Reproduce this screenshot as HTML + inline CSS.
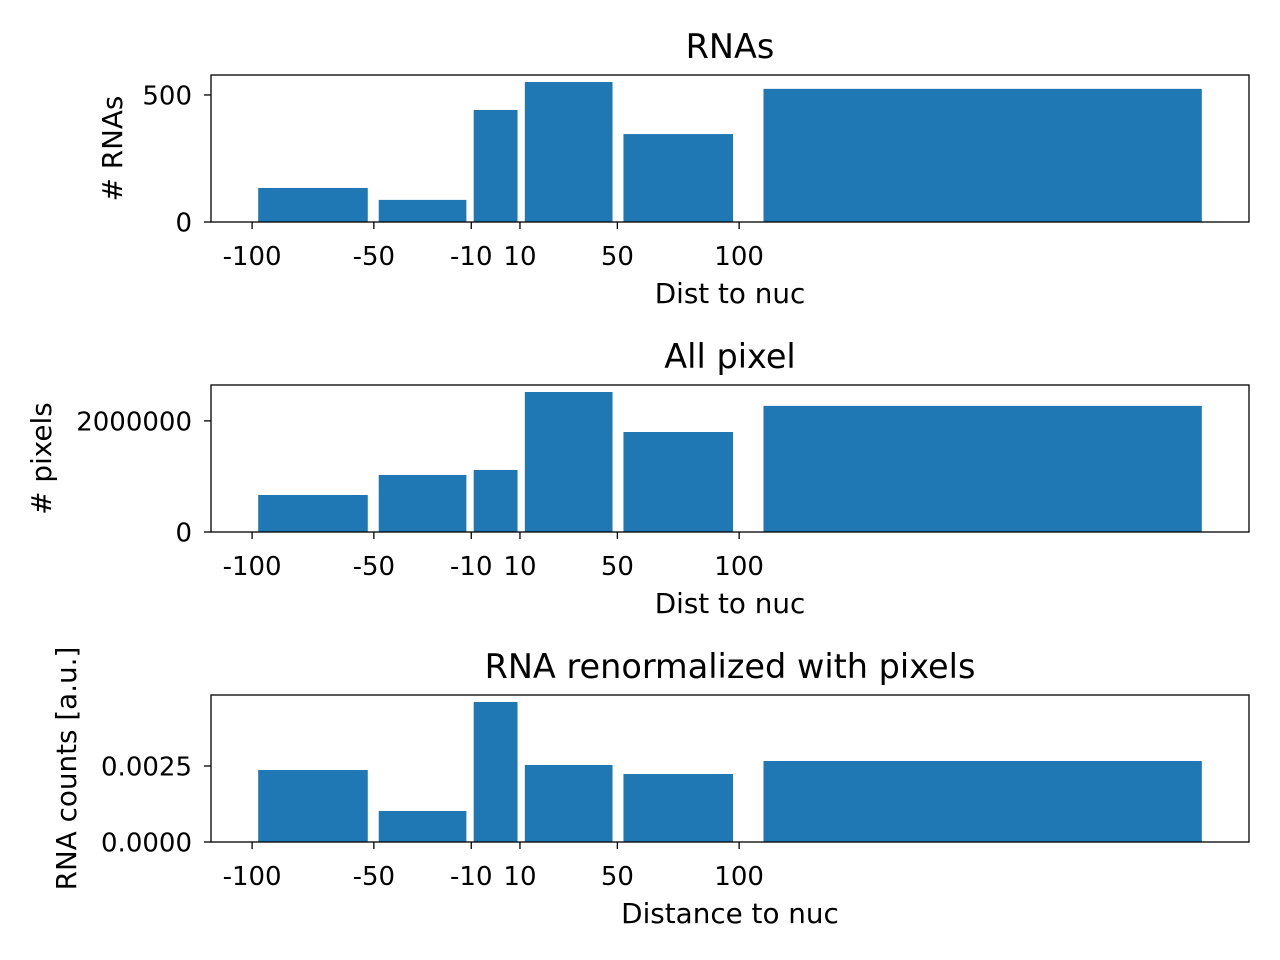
<!DOCTYPE html>
<html><head><meta charset="utf-8"><style>
body{margin:0;background:#fff;}
svg{display:block;font-family:"DejaVu Sans","Liberation Sans",sans-serif;}
</style></head><body>
<svg id="chart" width="1280" height="960" viewBox="0 0 1280 960" xmlns="http://www.w3.org/2000/svg"></svg>
<script>
const binStarts = [-100, -50, -10, 10, 50, 100];
const binEnds = [-50, -10, 10, 50, 100, 300];
const xTickValues = [-100, -50, -10, 10, 50, 100];
const xTickLabels = ["-100", "-50", "-10", "10", "50", "100"];
const rnaCounts = [134, 87, 441, 551, 346, 524];
const pixelCounts = [666000, 1027000, 1117000, 2520000, 1800000, 2270000];
const renormValues = [0.002368, 0.00102, 0.004605, 0.002533, 0.002237, 0.002664];
const rnaYTicks = [0, 500];
const rnaYTickLabels = ["0", "500"];
const pixYTicks = [0, 2000000];
const pixYTickLabels = ["0", "2000000"];
const renYTicks = [0, 0.0025];
const renYTickLabels = ["0.0000", "0.0025"];

const NS = "http://www.w3.org/2000/svg";
const svg = document.getElementById("chart");
function mk(tag, attrs, parent){const e=document.createElementNS(NS,tag);for(const k in attrs)e.setAttribute(k,attrs[k]);(parent||svg).appendChild(e);return e;}

const AX_L=211, AX_R=1249;
const TICK_FS=26, LABEL_FS=27.8, TITLE_FS=33.5;
const dataMin=Math.min(...binStarts.map((s,i)=>s+(binEnds[i]-s)*0.05));
const dataMax=Math.max(...binEnds.map((e,i)=>e-(e-binStarts[i])*0.05));
const pad=(dataMax-dataMin)*0.05;
const xMin=dataMin-pad, xMax=dataMax+pad;
function xs(v){return AX_L+(v-xMin)/(xMax-xMin)*(AX_R-AX_L);}

const panels=[
 {top:75,bottom:222,vals:rnaCounts,yt:rnaYTicks,ytl:rnaYTickLabels,title:"RNAs",xlabel:"Dist to nuc",ylabel:"# RNAs",ylx:113,name:"rnas"},
 {top:385,bottom:532,vals:pixelCounts,yt:pixYTicks,ytl:pixYTickLabels,title:"All pixel",xlabel:"Dist to nuc",ylabel:"# pixels",ylx:42,name:"pixels"},
 {top:695,bottom:842,vals:renormValues,yt:renYTicks,ytl:renYTickLabels,title:"RNA renormalized with pixels",xlabel:"Distance to nuc",ylabel:"RNA counts [a.u.]",ylx:67,name:"renormalized"}
];

panels.forEach(p=>{
  const g=mk("g",{});
  
  
  const yMax=Math.max(...p.vals)*1.05;
  const ys=v=>p.bottom-v/yMax*(p.bottom-p.top);
  p.vals.forEach((v,i)=>{
    const w=(binEnds[i]-binStarts[i])*0.9;
    const c=(binStarts[i]+binEnds[i])/2;
    const r=mk("rect",{x:xs(c-w/2),y:ys(v),width:xs(c+w/2)-xs(c-w/2),height:p.bottom-ys(v),fill:"#1f77b4"},g);
    
    
  });
  const fr=mk("rect",{x:AX_L,y:p.top,width:AX_R-AX_L,height:p.bottom-p.top,fill:"none",stroke:"#000","stroke-width":1.3},g);
  
  
  xTickValues.forEach((v,i)=>{
    const x=xs(v);
    mk("line",{x1:x,x2:x,y1:p.bottom,y2:p.bottom+7,stroke:"#000","stroke-width":1.3},g);
    const t=mk("text",{x:x,y:p.bottom+43,"text-anchor":"middle","font-size":TICK_FS},g);
    t.textContent=xTickLabels[i];
    
    
  });
  p.yt.forEach((v,i)=>{
    const y=ys(v);
    mk("line",{x1:AX_L-7,x2:AX_L,y1:y,y2:y,stroke:"#000","stroke-width":1.3},g);
    const t=mk("text",{x:AX_L-19,y:y+9.5,"text-anchor":"end","font-size":TICK_FS},g);
    t.textContent=p.ytl[i];
    
    
  });
  const ti=mk("text",{x:(AX_L+AX_R)/2,y:p.top-17,"text-anchor":"middle","font-size":TITLE_FS},g);
  ti.textContent=p.title;
  
  
  const xl=mk("text",{x:(AX_L+AX_R)/2,y:p.bottom+81,"text-anchor":"middle","font-size":LABEL_FS},g);
  xl.textContent=p.xlabel;
  
  
  const cy=(p.top+p.bottom)/2;
  const yl=mk("text",{x:p.ylx+9,y:cy,"text-anchor":"middle","font-size":LABEL_FS,transform:`rotate(-90 ${p.ylx+9} ${cy})`},g);
  yl.textContent=p.ylabel;
  
  
});
</script>
</body></html>
